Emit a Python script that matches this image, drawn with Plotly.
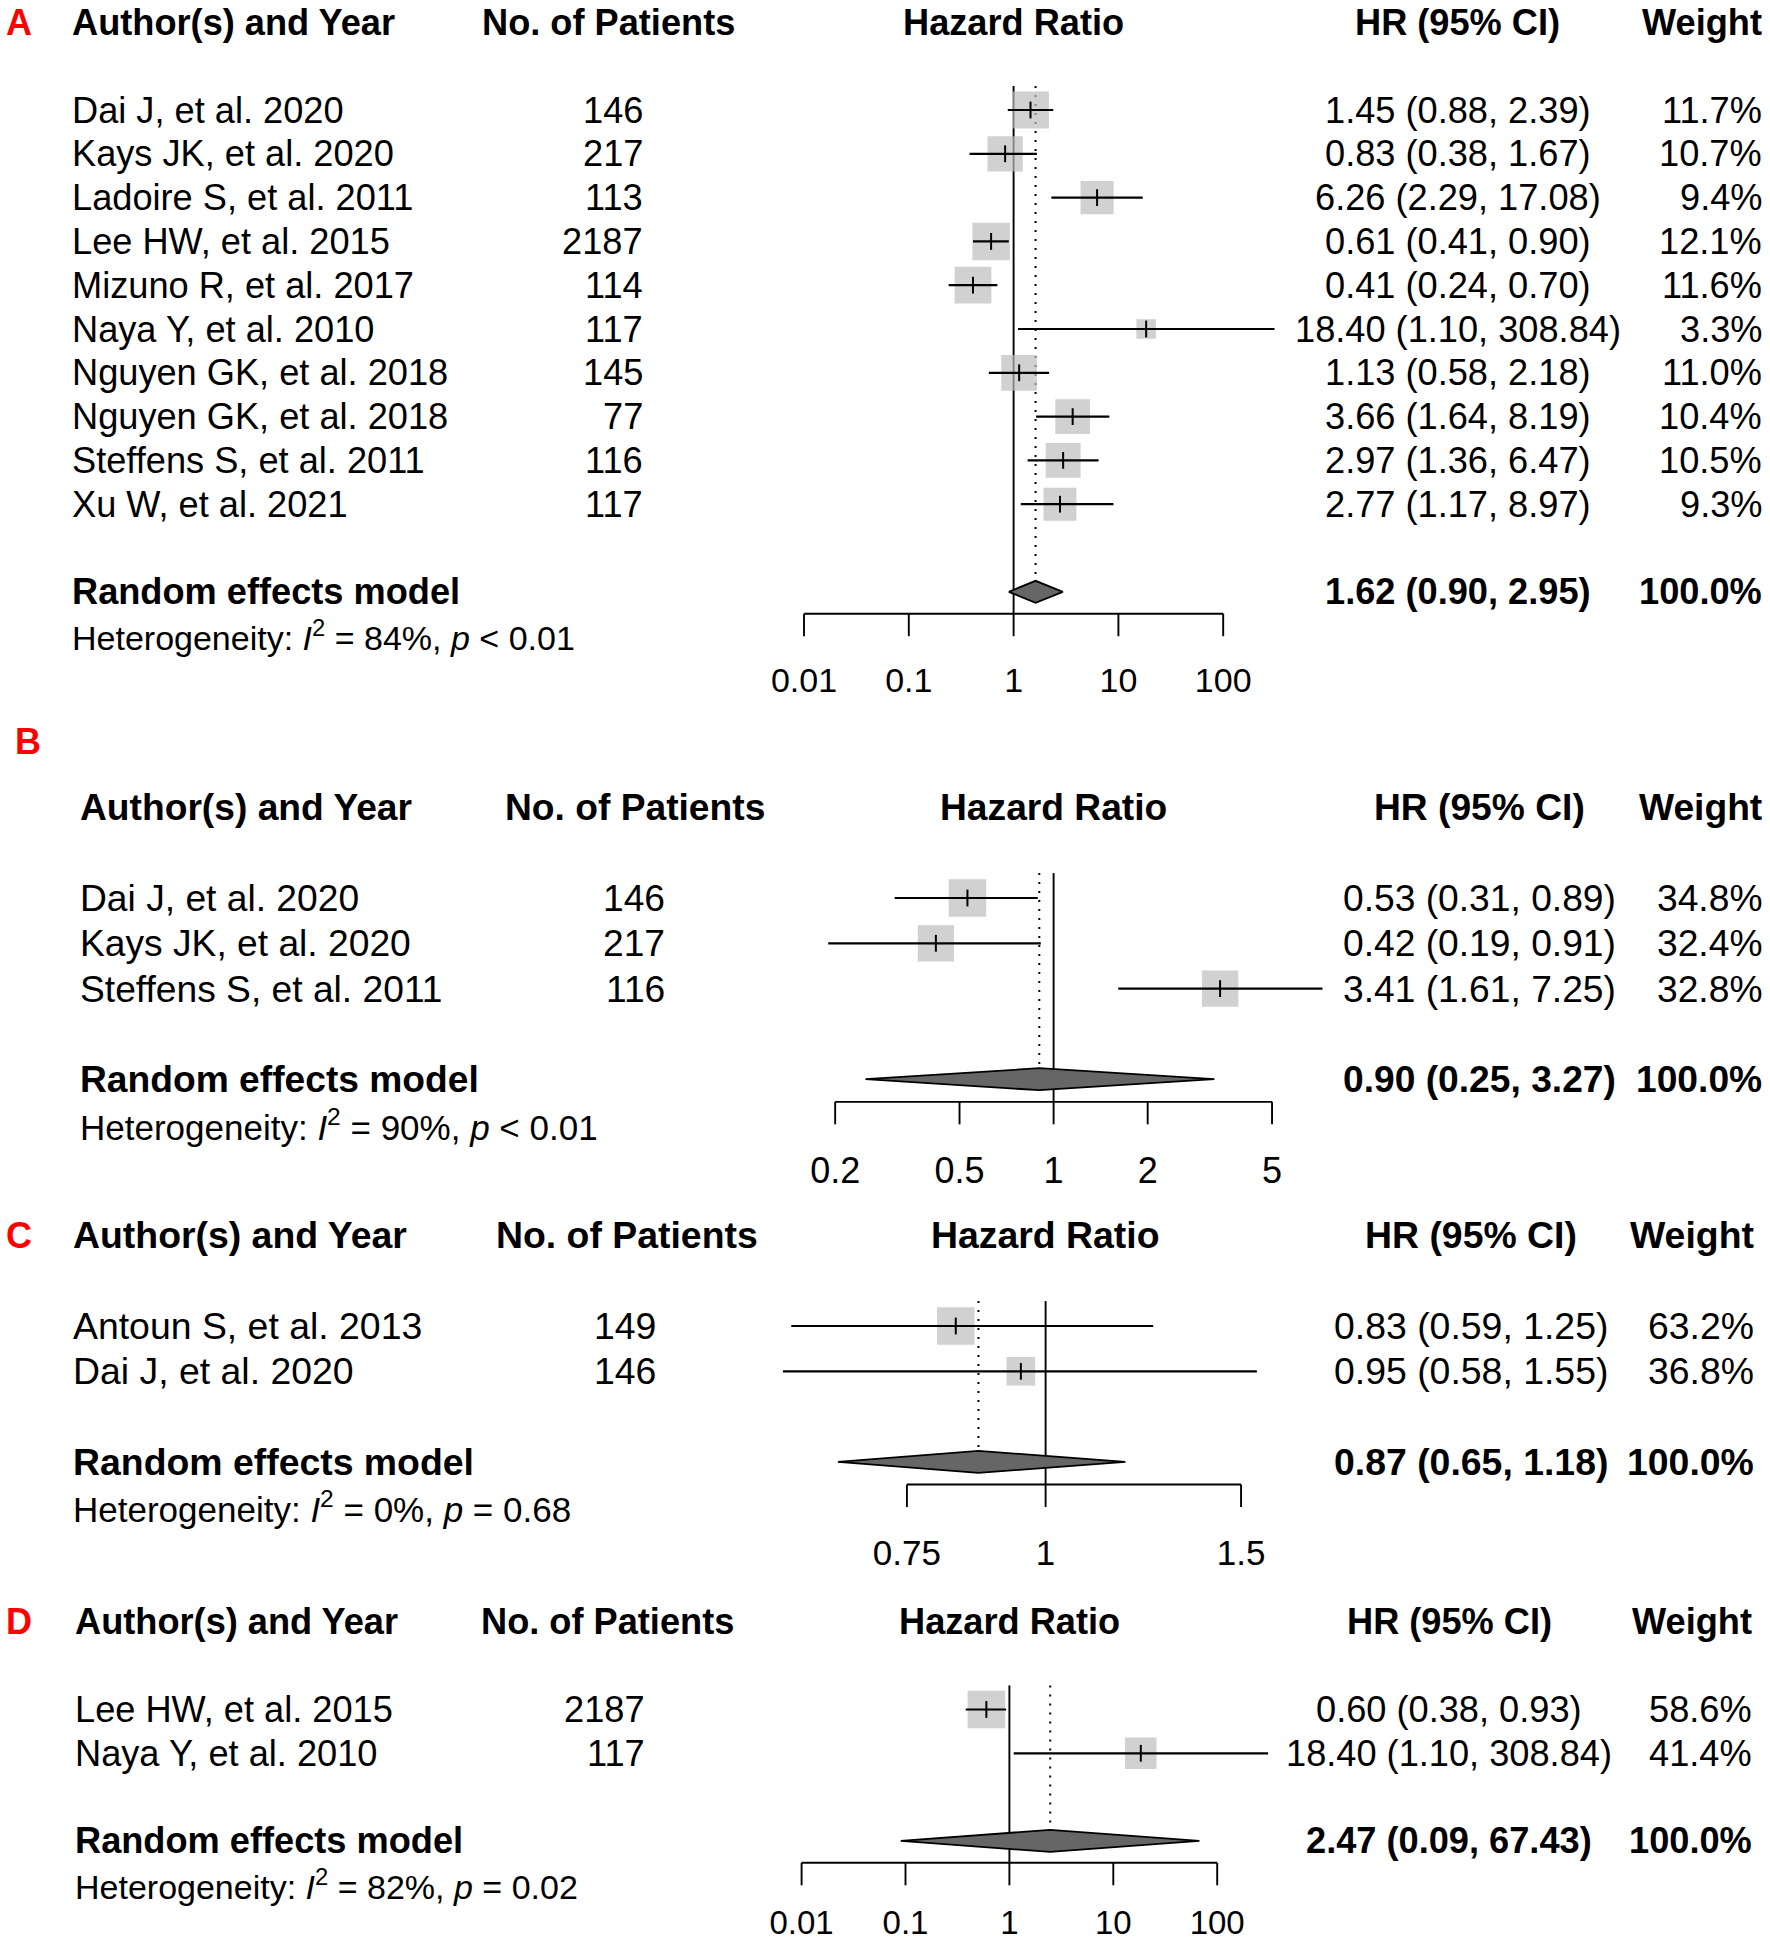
import math
import plotly.graph_objects as go

# ---------------- data ----------------
header_cols = ["Author(s) and Year", "No. of Patients", "Hazard Ratio", "HR (95% CI)", "Weight"]
model_label = "Random effects model"

studies_A = ["Dai J, et al. 2020", "Kays JK, et al. 2020", "Ladoire S, et al. 2011",
             "Lee HW, et al. 2015", "Mizuno R, et al. 2017", "Naya Y, et al. 2010",
             "Nguyen GK, et al. 2018", "Nguyen GK, et al. 2018", "Steffens S, et al. 2011",
             "Xu W, et al. 2021"]
patients_A = [146, 217, 113, 2187, 114, 117, 145, 77, 116, 117]
hr_A = [1.45, 0.83, 6.26, 0.61, 0.41, 18.40, 1.13, 3.66, 2.97, 2.77]
lo_A = [0.88, 0.38, 2.29, 0.41, 0.24, 1.10, 0.58, 1.64, 1.36, 1.17]
hi_A = [2.39, 1.67, 17.08, 0.90, 0.70, 308.84, 2.18, 8.19, 6.47, 8.97]
weight_A = [11.7, 10.7, 9.4, 12.1, 11.6, 3.3, 11.0, 10.4, 10.5, 9.3]
model_A = [1.62, 0.90, 2.95]
i2_A, p_A = "84%", "< 0.01"
ticks_A = [0.01, 0.1, 1, 10, 100]
ticklabels_A = ["0.01", "0.1", "1", "10", "100"]

studies_B = ["Dai J, et al. 2020", "Kays JK, et al. 2020", "Steffens S, et al. 2011"]
patients_B = [146, 217, 116]
hr_B = [0.53, 0.42, 3.41]
lo_B = [0.31, 0.19, 1.61]
hi_B = [0.89, 0.91, 7.25]
weight_B = [34.8, 32.4, 32.8]
model_B = [0.90, 0.25, 3.27]
i2_B, p_B = "90%", "< 0.01"
ticks_B = [0.2, 0.5, 1, 2, 5]
ticklabels_B = ["0.2", "0.5", "1", "2", "5"]

studies_C = ["Antoun S, et al. 2013", "Dai J, et al. 2020"]
patients_C = [149, 146]
hr_C = [0.83, 0.95]
lo_C = [0.59, 0.58]
hi_C = [1.25, 1.55]
weight_C = [63.2, 36.8]
model_C = [0.87, 0.65, 1.18]
i2_C, p_C = "0%", "= 0.68"
ticks_C = [0.75, 1, 1.5]
ticklabels_C = ["0.75", "1", "1.5"]

studies_D = ["Lee HW, et al. 2015", "Naya Y, et al. 2010"]
patients_D = [2187, 117]
hr_D = [0.60, 18.40]
lo_D = [0.38, 1.10]
hi_D = [0.93, 308.84]
weight_D = [58.6, 41.4]
model_D = [2.47, 0.09, 67.43]
i2_D, p_D = "82%", "= 0.02"
ticks_D = [0.01, 0.1, 1, 10, 100]
ticklabels_D = ["0.01", "0.1", "1", "10", "100"]

# ---------------- layout / style configuration (pixels) ----------------
W, H = 1770, 1946
FONT = "Liberation Sans, Arial, Helvetica, sans-serif"
SQ_MAX = 37.5
LW_CI = 2.2
LW_REF = 1.9
DIAMOND_HALF = 11

panels = [
    dict(letter="A", studies=studies_A, n=patients_A, hr=hr_A, lo=lo_A, hi=hi_A, w=weight_A,
         model=model_A, i2=i2_A, p=p_A, ticks=ticks_A, ticklabels=ticklabels_A,
         cfg=dict(y1=110.0, step=43.8, yspan=(0, 705), xspan=(780, 1300), x1=1013.6, ppd=104.8,
                  letter_x=4.6, letter_row=-1, author_x=71.0, nop_x=608.5, num_x=644,
                  hr_x=1457.7, wt_x=1763, fs=36.2, fs_het=34, fs_tick=34, tick_drop=4)),
    dict(letter="B", studies=studies_B, n=patients_B, hr=hr_B, lo=lo_B, hi=hi_B, w=weight_B,
         model=model_B, i2=i2_B, p=p_B, ticks=ticks_B, ticklabels=ticklabels_B,
         cfg=dict(y1=898.0, step=45.3, yspan=(720, 1188), xspan=(800, 1340), x1=1053.6, ppd=312.5,
                  letter_x=14.4, letter_row=-2.45, author_x=79.0, nop_x=634.7, num_x=666,
                  hr_x=1479.5, wt_x=1763, fs=37.2, fs_het=35, fs_tick=36, tick_drop=4)),
    dict(letter="C", studies=studies_C, n=patients_C, hr=hr_C, lo=lo_C, hi=hi_C, w=weight_C,
         model=model_C, i2=i2_C, p=p_C, ticks=ticks_C, ticklabels=ticklabels_C,
         cfg=dict(y1=1326, step=45.3, yspan=(1205, 1590), xspan=(760, 1280), x1=1045.6, ppd=1110,
                  letter_x=4.6, letter_row=-1, author_x=72.0, nop_x=627, num_x=657,
                  hr_x=1471, wt_x=1755, fs=37.4, fs_het=35, fs_tick=35, tick_drop=4)),
    dict(letter="D", studies=studies_D, n=patients_D, hr=hr_D, lo=lo_D, hi=hi_D, w=weight_D,
         model=model_D, i2=i2_D, p=p_D, ticks=ticks_D, ticklabels=ticklabels_D,
         cfg=dict(y1=1709.5, step=43.8, yspan=(1598, 1946), xspan=(780, 1290), x1=1009.4, ppd=103.9,
                  letter_x=4.6, letter_row=-1, author_x=73.8, nop_x=607.6, num_x=645.8,
                  hr_x=1449.4, wt_x=1752.5, fs=36.2, fs_het=34, fs_tick=33, tick_drop=-3)),
]

fig = go.Figure()
annotations = []


def esc(s):
    return s.replace("<", "&lt;").replace(">", "&gt;")


for i, P in enumerate(panels, start=1):
    c = P["cfg"]
    xa = "x" if i == 1 else f"x{i}"
    ya = "y" if i == 1 else f"y{i}"
    xkey = "xaxis" if i == 1 else f"xaxis{i}"
    ykey = "yaxis" if i == 1 else f"yaxis{i}"

    def row_of(py, c=c):
        return 1 + (py - c["y1"]) / c["step"]

    x0p, x1p = c["xspan"]
    y0p, y1p = c["yspan"]
    fig.layout[xkey] = dict(
        type="log", domain=[x0p / W, x1p / W],
        range=[(x0p - c["x1"]) / c["ppd"], (x1p - c["x1"]) / c["ppd"]],
        visible=False, showgrid=False, zeroline=False, fixedrange=True, anchor=ya)
    fig.layout[ykey] = dict(
        domain=[1 - y1p / H, 1 - y0p / H],
        range=[row_of(y1p), row_of(y0p)],
        visible=False, showgrid=False, zeroline=False, fixedrange=True, anchor=xa)

    n = len(P["studies"])
    rows = list(range(1, n + 1))
    mrow = n + 2
    arow = n + 2.5
    lrow = n + 4 + c["tick_drop"] / c["step"]
    dh = DIAMOND_HALF / c["step"]
    tl = 22.5 / c["step"]
    top = 0.45
    m_est, m_lo, m_hi = P["model"]

    ref_style = dict(color="black", width=LW_REF)
    # reference line at HR = 1
    fig.add_trace(go.Scatter(x=[1, 1], y=[top, arow], mode="lines", line=ref_style,
                             xaxis=xa, yaxis=ya, hoverinfo="skip", showlegend=False))
    # dotted summary line
    fig.add_trace(go.Scatter(x=[m_est, m_est], y=[top, mrow - dh], mode="lines",
                             line=dict(color="black", width=2, dash="2px,7px"),
                             xaxis=xa, yaxis=ya, hoverinfo="skip", showlegend=False))
    # squares
    wmax = max(P["w"])
    fig.add_trace(go.Scatter(x=P["hr"], y=rows, mode="markers",
                             marker=dict(symbol="square", color="#BEBEBE",
                                         size=[SQ_MAX * math.sqrt(w / wmax) for w in P["w"]],
                                         line=dict(width=0)),
                             xaxis=xa, yaxis=ya, cliponaxis=False, hoverinfo="skip",
                             showlegend=False))
    # CI lines
    cx, cy = [], []
    for r, lo, hi in zip(rows, P["lo"], P["hi"]):
        cx += [lo, hi, None]
        cy += [r, r, None]
    fig.add_trace(go.Scatter(x=cx, y=cy, mode="lines", line=dict(color="black", width=LW_CI),
                             xaxis=xa, yaxis=ya, hoverinfo="skip", showlegend=False))
    # point estimate ticks
    fig.add_trace(go.Scatter(x=P["hr"], y=rows, mode="markers",
                             marker=dict(symbol="line-ns", size=12,
                                         line=dict(color="black", width=2)),
                             xaxis=xa, yaxis=ya, cliponaxis=False, hoverinfo="skip",
                             showlegend=False))
    # diamond
    fig.add_trace(go.Scatter(x=[m_lo, m_est, m_hi, m_est, m_lo],
                             y=[mrow, mrow - dh, mrow, mrow + dh, mrow],
                             mode="lines", fill="toself", fillcolor="#666666",
                             line=dict(color="black", width=1.8),
                             xaxis=xa, yaxis=ya, hoverinfo="skip", showlegend=False))
    # axis line and ticks
    ax_x = [P["ticks"][0], P["ticks"][-1], None]
    ax_y = [arow, arow, None]
    for t in P["ticks"]:
        ax_x += [t, t, None]
        ax_y += [arow, arow + tl, None]
    fig.add_trace(go.Scatter(x=ax_x, y=ax_y, mode="lines", line=ref_style,
                             xaxis=xa, yaxis=ya, hoverinfo="skip", showlegend=False))
    fig.add_trace(go.Scatter(x=P["ticks"], y=[lrow] * len(P["ticks"]), mode="text",
                             text=P["ticklabels"], textposition="middle center",
                             textfont=dict(family=FONT, size=c["fs_tick"], color="black"),
                             xaxis=xa, yaxis=ya, cliponaxis=False, hoverinfo="skip",
                             showlegend=False))

    # ---------- text ----------
    def ann(xpx, row, text, anchor, size, color="black", ya=ya):
        annotations.append(dict(x=xpx / W, y=row, xref="paper", yref=ya, text=text,
                                xanchor=anchor, yanchor="middle", showarrow=False,
                                borderpad=0,
                                font=dict(family=FONT, size=size, color=color)))

    fs = c["fs"]
    ann(c["letter_x"], c["letter_row"], f"<b>{P['letter']}</b>", "left", 36, "#FF0000")
    hrow = -1
    ann(c["author_x"], hrow, f"<b>{header_cols[0]}</b>", "left", fs)
    ann(c["nop_x"], hrow, f"<b>{header_cols[1]}</b>", "center", fs)
    annotations.append(dict(x=0, y=hrow, xref=xa, yref=ya, text=f"<b>{header_cols[2]}</b>",
                            xanchor="center", yanchor="middle", showarrow=False, borderpad=0,
                            font=dict(family=FONT, size=fs, color="black")))
    ann(c["hr_x"], hrow, f"<b>{header_cols[3]}</b>", "center", fs)
    ann(c["wt_x"], hrow, f"<b>{header_cols[4]}</b>", "right", fs)

    for r, s, nn, h, lo, hi, w in zip(rows, P["studies"], P["n"], P["hr"], P["lo"], P["hi"], P["w"]):
        ann(c["author_x"], r, s, "left", fs)
        ann(c["num_x"], r, str(nn), "right", fs)
        ann(c["hr_x"], r, f"{h:.2f} ({lo:.2f}, {hi:.2f})", "center", fs)
        ann(c["wt_x"], r, f"{w:.1f}%", "right", fs)

    ann(c["author_x"], mrow, f"<b>{model_label}</b>", "left", fs)
    ann(c["hr_x"], mrow, f"<b>{m_est:.2f} ({m_lo:.2f}, {m_hi:.2f})</b>", "center", fs)
    ann(c["wt_x"], mrow, "<b>100.0%</b>", "right", fs)
    het = f"Heterogeneity: <i>I</i><sup>2</sup> = {P['i2']}, <i>p</i> {esc(P['p'])}"
    ann(c["author_x"], mrow + 1, het, "left", c["fs_het"])

fig.update_layout(
    width=W, height=H, margin=dict(l=0, r=0, t=0, b=0),
    paper_bgcolor="white", plot_bgcolor="rgba(0,0,0,0)",
    showlegend=False, annotations=annotations,
    font=dict(family=FONT, color="black"),
)

fig.write_html("out.html",
               config={"displayModeBar": False, "staticPlot": True},
               post_script="document.body.style.margin='0px';document.body.style.overflow='hidden';")
